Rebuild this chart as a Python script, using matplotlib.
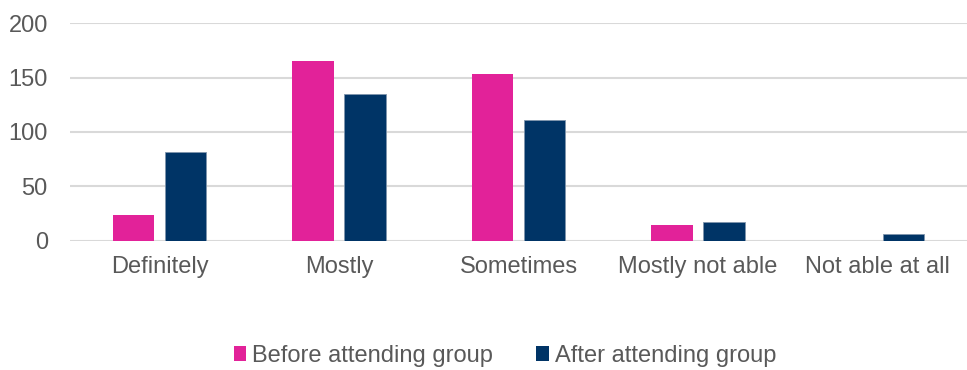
import numpy as np
import matplotlib.pyplot as plt
from matplotlib.patches import Patch

# -------------------------------
# Chart data
# -------------------------------
categories = ["Definitely", "Mostly", "Sometimes", "Mostly not able", "Not able at all"]
before_vals = [24, 165, 153, 14, 0]
after_vals = [82, 135, 111, 17, 6]
series_names = ["Before attending group", "After attending group"]
y_ticks = [0, 50, 100, 150, 200]

pink = "#E22299"
navy = "#003466"
text_col = "#595959"

plt.rcParams['font.family'] = ['Liberation Sans', 'DejaVu Sans']

fig = plt.figure(figsize=(9.67, 3.70), dpi=100)
ax = fig.add_axes([0.0724, 0.3495, 0.9276, 0.5875])

x = np.arange(len(categories))
w = 0.23
off = 0.145
ax.bar(x - off, before_vals, width=w, color=pink, zorder=3)
ax.bar(x + off, after_vals, width=w, color=navy, edgecolor="#7f95ad", linewidth=0.6, zorder=3)

ax.set_xlim(-0.5, len(categories) - 0.5)
ax.set_ylim(0, 200)
ax.set_yticks(y_ticks)
ax.set_xticks(x)
ax.set_xticklabels(categories)

ax.grid(axis='y', color="#D9D9D9", linewidth=1.5, zorder=0)
for s in ax.spines.values():
    s.set_visible(False)
ax.tick_params(axis='both', length=0, labelsize=17, colors=text_col)
ax.tick_params(axis='y', pad=16)
ax.tick_params(axis='x', pad=11)

# Legend at the bottom
handles = [Patch(facecolor=pink), Patch(facecolor=navy)]
fig.legend(handles, series_names, loc='center', bbox_to_anchor=(0.522, 0.038),
           ncol=2, frameon=False, fontsize=17, labelcolor=text_col,
           handlelength=0.55, handleheight=0.55, handletextpad=0.25, columnspacing=1.8)

plt.savefig("out.png", dpi=100)
plt.close()
